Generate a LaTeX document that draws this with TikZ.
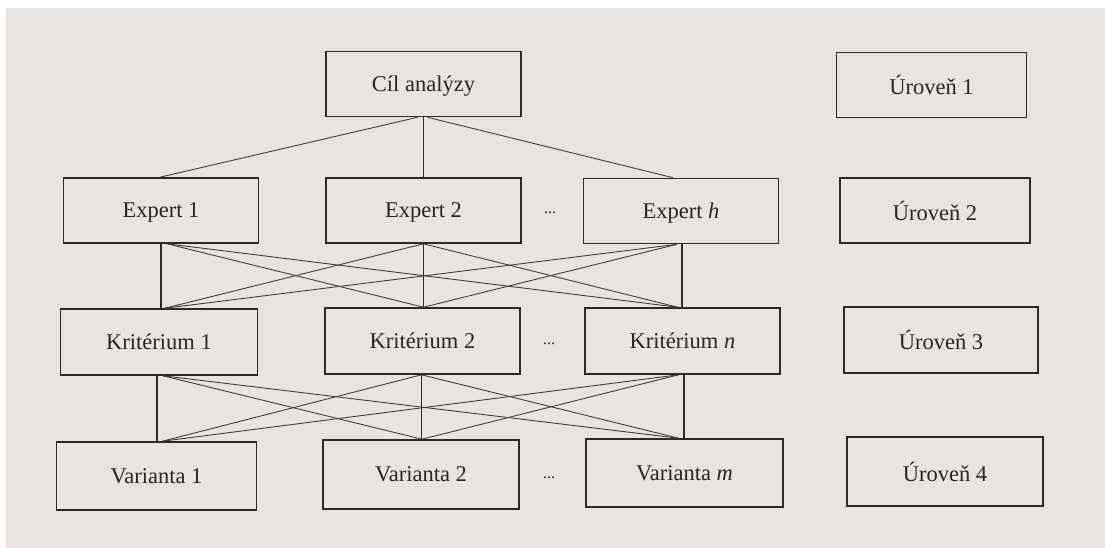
\documentclass[tikz,border=0pt]{standalone}
\usepackage{fontspec}
\setmainfont{Liberation Serif}
\usetikzlibrary{calc}
\definecolor{paper}{HTML}{E7E4E2}
\definecolor{ink}{HTML}{2B2929}
\tikzset{
  box/.style={draw=ink, line width=1.6bp, minimum width=195bp, minimum height=65bp,
    inner sep=0pt, text=ink!90!black, text depth=0pt, font=\fontsize{22.5bp}{24bp}\selectfont},
  dots/.style={text=ink, font=\fontsize{16bp}{18bp}\selectfont},
  vline/.style={draw=ink, line width=1.5bp},
  dline/.style={draw=ink!90, line width=0.9bp}
}
\begin{document}
\begin{tikzpicture}[x=1bp,y=-1bp]
\useasboundingbox (0,0) rectangle (1105,548);
\fill[white] (0,0) rectangle (1105,548);
\fill[paper] (6,8) rectangle (1105,548);
% level 1
\node[box] (cil) at (423.5,84) {Cíl analýzy};
\node[box, minimum width=190bp] (u1) at (931.5,85) {Úroveň 1};
% level 2
\node[box] (e1) at (161,210.5) {Expert 1};
\node[box] (e2) at (423.5,210.5) {Expert 2};
\node[box] (eh) at (681,211) {Expert \textit{h}};
\node[box, minimum width=190bp] (u2) at (935,210.5) {Úroveň 2};
\node[dots] (d2) at (550,213) {...};
% level 3
\node[box, minimum width=197bp, minimum height=66bp] (k1) at (159,342) {Kritérium 1};
\node[box, minimum height=66bp] (k2) at (422.5,341) {Kritérium 2};
\node[box, minimum height=66bp] (kn) at (682.5,341) {Kritérium \textit{n}};
\node[box, minimum width=194bp, minimum height=66bp] (u3) at (941,340) {Úroveň 3};
\node[dots] (d3) at (549,344) {...};
% level 4
\node[box, minimum width=200bp, minimum height=68bp] (v1) at (156.5,476) {Varianta 1};
\node[box, minimum width=196bp, minimum height=69bp] (v2) at (421,474.5) {Varianta 2};
\node[box, minimum width=197bp, minimum height=68bp] (vm) at (684.5,473) {Varianta \textit{m}};
\node[box, minimum width=196bp, minimum height=69bp] (u4) at (945,471.5) {Úroveň 4};
\node[dots] (d4) at (549,478) {...};

% connection points
\coordinate (cilL) at ($(cil.south)+(-6,0)$);
\coordinate (cilR) at ($(cil.south)+(4,0)$);
\coordinate (e1t) at ($(e1.north)+(-1,0)$);
\coordinate (eht) at ($(eh.north)+(-8,0)$);
\coordinate (e1b) at ($(e1.south)+(0,0)$);
\coordinate (e1d) at ($(e1.south)+(6,0)$);
\coordinate (e2b) at ($(e2.south)+(0,0)$);
\coordinate (ehb) at ($(eh.south)+(1,0)$);
\coordinate (ehd) at ($(eh.south)+(-4,0)$);
\coordinate (k1td) at ($(k1.north)+(6,0)$);
\coordinate (k2t) at ($(k2.north)+(1,0)$);
\coordinate (kntd) at ($(kn.north)+(-5,0)$);
\coordinate (k1b) at ($(k1.south)+(-2,0)$);
\coordinate (k1bd) at ($(k1.south)+(4,0)$);
\coordinate (k2b) at ($(k2.south)+(-1,0)$);
\coordinate (knb) at ($(kn.south)+(1.5,0)$);
\coordinate (knbd) at ($(kn.south)+(-4,0)$);
\coordinate (v1td) at ($(v1.north)+(6,0)$);
\coordinate (v2t) at ($(v2.north)+(1,0)$);
\coordinate (vmtd) at ($(vm.north)+(-6,0)$);

% level 1 -> 2
\draw[vline] (cil.south) -- (e2.north);
\draw[dline] (cilL) -- (e1t);
\draw[dline] (cilR) -- (eht);
% level 2 -> 3
\draw[vline] (e1b) -- (e1b |- k1.north);
\draw[vline] (e2b) -- (e2b |- k2.north);
\draw[vline] (ehb) -- (ehb |- kn.north);
\draw[dline] (e1d) -- (k2t);
\draw[dline] (e1d) -- (kntd);
\draw[dline] (e2b) -- (k1td);
\draw[dline] (e2b) -- (kntd);
\draw[dline] (ehd) -- (k1td);
\draw[dline] (ehd) -- (k2t);
% level 3 -> 4
\draw[vline] (k1b) -- (k1b |- v1.north);
\draw[vline] (k2b) -- (k2b |- v2.north);
\draw[vline] (knb) -- (knb |- vm.north);
\draw[dline] (k1bd) -- (v2t);
\draw[dline] (k1bd) -- (vmtd);
\draw[dline] (k2b) -- (v1td);
\draw[dline] (k2b) -- (vmtd);
\draw[dline] (knbd) -- (v1td);
\draw[dline] (knbd) -- (v2t);
\end{tikzpicture}
\end{document}
